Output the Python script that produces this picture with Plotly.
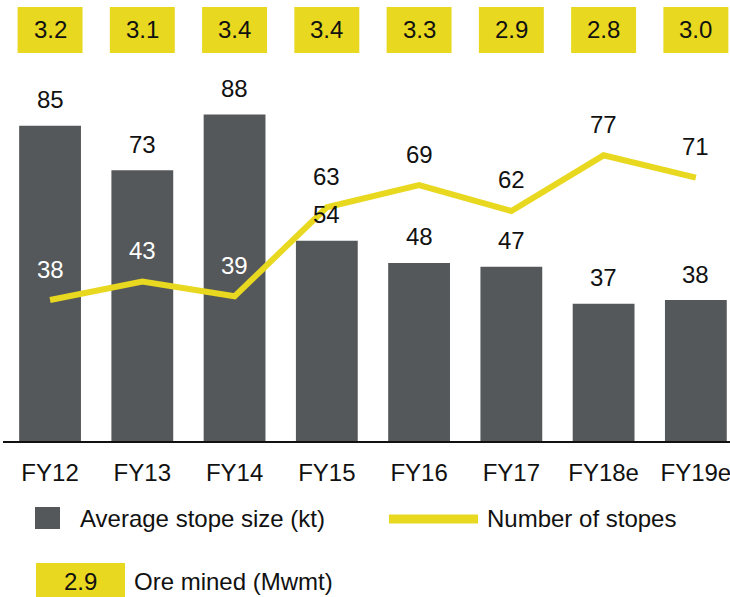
import plotly.graph_objects as go

categories = ["FY12", "FY13", "FY14", "FY15", "FY16", "FY17", "FY18e", "FY19e"]
stope_size = [85, 73, 88, 54, 48, 47, 37, 38]
num_stopes = [38, 43, 39, 63, 69, 62, 77, 71]
ore_mined = [3.2, 3.1, 3.4, 3.4, 3.3, 2.9, 2.8, 3.0]
ore_legend_value = "2.9"

BAR = "#55585a"
YEL = "#e8d81f"
FONT = "Liberation Sans, Arial, sans-serif"
FS = 24

W, H = 730, 597
ML, MR, MT, MB = 3, 0, 0, 156
PW = W - ML - MR
PH = H - MT - MB


def px(x):
    return (x - ML) / PW


def py(y):
    return (H - MB - y) / PH


fig = go.Figure()
fig.add_trace(go.Bar(x=categories, y=stope_size, marker=dict(color=BAR, line=dict(width=0)),
                     width=0.67, showlegend=False, hoverinfo="skip"))
fig.add_trace(go.Scatter(x=categories, y=num_stopes, mode="lines",
                         line=dict(color=YEL, width=6), showlegend=False, hoverinfo="skip"))

ann = []
shapes = []
for i, c in enumerate(categories):
    ann.append(dict(x=c, y=stope_size[i], xref="x", yref="y", text=str(stope_size[i]),
                    showarrow=False, yanchor="middle", yshift=26,
                    font=dict(family=FONT, size=FS, color="#111111")))
    white = num_stopes[i] < stope_size[i] - 20
    ann.append(dict(x=c, y=num_stopes[i], xref="x", yref="y", text=str(num_stopes[i]),
                    showarrow=False, yanchor="middle", yshift=31,
                    font=dict(family=FONT, size=FS, color="#ffffff" if white else "#111111")))
    shapes.append(dict(type="rect", xref="x", yref="paper", x0=i - 0.352, x1=i + 0.352,
                       y0=py(53), y1=py(7), fillcolor=YEL, line=dict(width=0), layer="above"))
    ann.append(dict(x=c, y=py(30), xref="x", yref="paper", text=f"{ore_mined[i]:.1f}",
                    showarrow=False, yanchor="middle",
                    font=dict(family=FONT, size=FS, color="#111111")))

shapes.append(dict(type="rect", xref="paper", yref="paper", x0=px(35), x1=px(60),
                   y0=py(529), y1=py(507), fillcolor=BAR, line=dict(width=0)))
ann.append(dict(x=px(78), y=py(518), xref="paper", yref="paper", xanchor="left", yanchor="middle",
                text="Average stope size (kt)", showarrow=False,
                font=dict(family=FONT, size=FS, color="#111111")))
shapes.append(dict(type="rect", xref="paper", yref="paper", x0=px(389), x1=px(478),
                   y0=py(523.5), y1=py(514.5), fillcolor=YEL, line=dict(width=0)))
ann.append(dict(x=px(485), y=py(518), xref="paper", yref="paper", xanchor="left", yanchor="middle",
                text="Number of stopes", showarrow=False,
                font=dict(family=FONT, size=FS, color="#111111")))
shapes.append(dict(type="rect", xref="paper", yref="paper", x0=px(36), x1=px(125),
                   y0=py(600), y1=py(563), fillcolor=YEL, line=dict(width=0)))
ann.append(dict(x=px(80), y=py(581), xref="paper", yref="paper", xanchor="center", yanchor="middle",
                text=ore_legend_value, showarrow=False,
                font=dict(family=FONT, size=FS, color="#111111")))
ann.append(dict(x=px(132), y=py(581), xref="paper", yref="paper", xanchor="left", yanchor="middle",
                text="Ore mined (Mwmt)", showarrow=False,
                font=dict(family=FONT, size=FS, color="#111111")))

fig.update_layout(
    width=W, height=H,
    margin=dict(l=ML, r=MR, t=MT, b=MB, pad=0),
    paper_bgcolor="white", plot_bgcolor="white",
    annotations=ann, shapes=shapes,
    bargap=0.33,
    xaxis=dict(type="category", range=[-0.51, 7.37], showgrid=False, zeroline=False,
               showline=True, linecolor="#111111", linewidth=2,
               ticks="outside", ticklen=9, tickcolor="rgba(0,0,0,0)",
               tickfont=dict(family=FONT, size=FS, color="#111111")),
    yaxis=dict(range=[0, PH / 3.71], showgrid=False, zeroline=False, showticklabels=False,
               showline=False),
    font=dict(family=FONT, size=FS),
)

fig.write_html("out.html", config={"displayModeBar": False},
               post_script="document.body.style.margin='0';document.body.style.overflow='hidden';")
